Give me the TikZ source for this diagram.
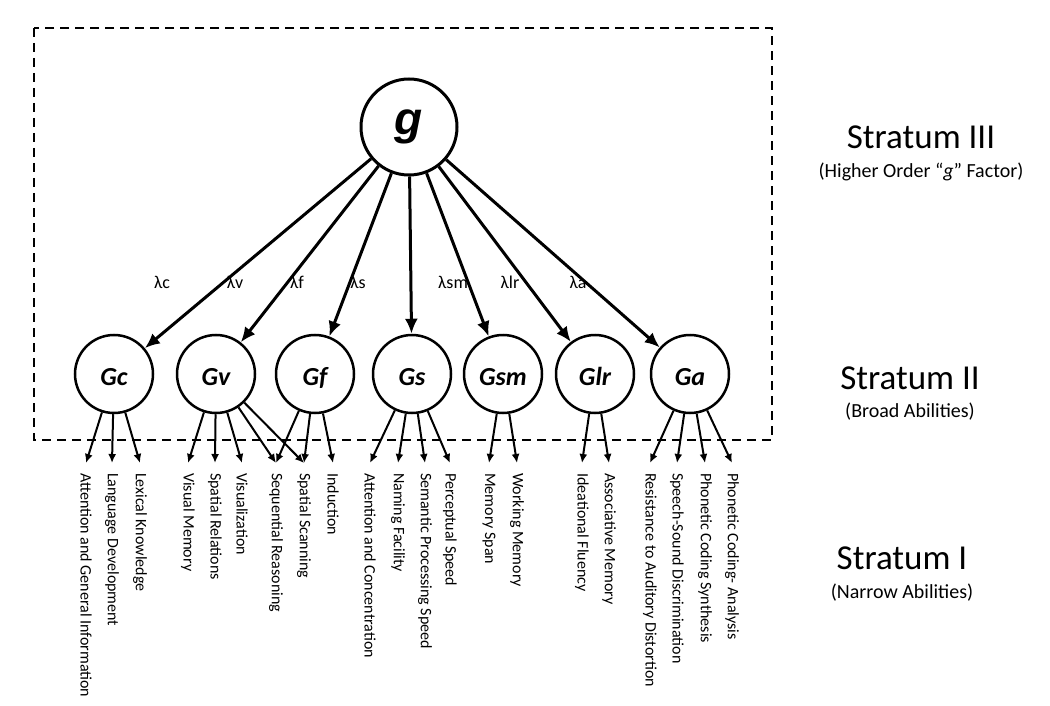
\documentclass[tikz,border=0pt]{standalone}
\usepackage{fontspec}
\setmainfont{Carlito}
\newfontfamily\gfont{Liberation Sans}
\usetikzlibrary{arrows.meta}

\begin{document}
\begin{tikzpicture}[x = 1pt, y = -1pt,
	factor/.style = {circle, draw, line width = 2.5pt, minimum size = 78pt, inner sep = 0pt, text height = 22pt, text depth = 0pt, font = \fontsize{26}{26}\selectfont\bfseries\itshape},
	load/.style = {line width = 3pt, -{Latex[length = 15pt, width = 13pt]}},
	narrow/.style = {line width = 2pt, -{Latex[length = 9pt, width = 8pt]}},
	ability/.style = {rotate = -90, anchor = west, inner xsep = 10pt, inner ysep = 0pt, font = \fontsize{16}{16}\selectfont},
	lam/.style = {font = \fontsize{18}{18}\selectfont},
	big/.style = {font = \fontsize{35}{36}\selectfont},
	small/.style = {font = \fontsize{20}{22}\selectfont}]%三层模型
	\useasboundingbox (0,0) rectangle (1050,706);
	\draw[line width = 2.5pt, dash pattern = on 9pt off 6pt] (34,28) rectangle (772,440);
	\node[circle, draw, line width = 3pt, minimum size = 96pt, inner sep = 0pt, font = \fontsize{46}{46}\gfont\bfseries\itshape] (g) at (409,127) {g};
	\node[factor] (Gc) at (114,374) {Gc};
	\node[factor] (Gv) at (216,374) {Gv};
	\node[factor] (Gf) at (315,374) {Gf};
	\node[factor] (Gs) at (412,374) {Gs};
	\node[factor] (Gsm) at (503,374) {Gsm};
	\node[factor] (Glr) at (595,374) {Glr};
	\node[factor] (Ga) at (690,374) {Ga};
	\draw[load] (g) -- (Gc);
	\draw[load] (g) -- (Gv);
	\draw[load] (g) -- (Gf);
	\draw[load] (g) -- (Gs);
	\draw[load] (g) -- (Gsm);
	\draw[load] (g) -- (Glr);
	\draw[load] (g) -- (Ga);
	\node[lam] (lc) at (162,282) {λc};
	\node[lam] (lv) at (235,282) {λv};
	\node[lam] (lf) at (297,282) {λf};
	\node[lam] (ls) at (358,282) {λs};
	\node[lam] (lsm) at (453,282) {λsm};
	\node[lam] (llr) at (510,282) {λlr};
	\node[lam] (la) at (578,282) {λa};
	% narrow abilities
	\node[ability] (a1) at (86,463) {Attention and General Information};
	\node[ability] (a2) at (112,463) {Language Development};
	\node[ability] (a3) at (140,463) {Lexical Knowledge};
	\node[ability] (a4) at (188,463) {Visual Memory};
	\node[ability] (a5) at (215,463) {Spatial Relations};
	\node[ability] (a6) at (242,463) {Visualization};
	\node[ability] (a7) at (276,463) {Sequential Reasoning};
	\node[ability] (a8) at (304,463) {Spatial Scanning};
	\node[ability] (a9) at (333,463) {Induction};
	\node[ability] (a10) at (370,463) {Attention and Concentration};
	\node[ability] (a11) at (398,463) {Naming Facility};
	\node[ability] (a12) at (425,463) {Semantic Processing Speed};
	\node[ability] (a13) at (450,463) {Perceptual Speed};
	\node[ability] (a14) at (489,463) {Memory Span};
	\node[ability] (a15) at (517,463) {Working Memory};
	\node[ability] (a16) at (582,463) {Ideational Fluency};
	\node[ability] (a17) at (609,463) {Associative Memory};
	\node[ability] (a18) at (650,463) {Resistance to Auditory Distortion};
	\node[ability] (a19) at (677,463) {Speech-Sound Discrimination};
	\node[ability] (a20) at (705,463) {Phonetic Coding Synthesis};
	\node[ability] (a21) at (732,463) {Phonetic Coding- Analysis};
	\draw[narrow] (Gc) -- (a1.west);
	\draw[narrow] (Gc) -- (a2.west);
	\draw[narrow] (Gc) -- (a3.west);
	\draw[narrow] (Gv) -- (a4.west);
	\draw[narrow] (Gv) -- (a5.west);
	\draw[narrow] (Gv) -- (a6.west);
	\draw[narrow] (Gv) -- (a7.west);
	\draw[narrow] (Gv) -- (a8.west);
	\draw[narrow] (Gf) -- (a7.west);
	\draw[narrow] (Gf) -- (a8.west);
	\draw[narrow] (Gf) -- (a9.west);
	\draw[narrow] (Gs) -- (a10.west);
	\draw[narrow] (Gs) -- (a11.west);
	\draw[narrow] (Gs) -- (a12.west);
	\draw[narrow] (Gs) -- (a13.west);
	\draw[narrow] (Gsm) -- (a14.west);
	\draw[narrow] (Gsm) -- (a15.west);
	\draw[narrow] (Glr) -- (a16.west);
	\draw[narrow] (Glr) -- (a17.west);
	\draw[narrow] (Ga) -- (a18.west);
	\draw[narrow] (Ga) -- (a19.west);
	\draw[narrow] (Ga) -- (a20.west);
	\draw[narrow] (Ga) -- (a21.west);
	% strata
	\node[big] (s3) at (921,137) {Stratum III};
	\node[small] (s3b) at (921,172) {(Higher Order “\textit{g}” Factor)};
	\node[big] (s2) at (910,378) {Stratum II};
	\node[small] (s2b) at (910,412) {(Broad Abilities)};
	\node[big] (s1) at (902,558) {Stratum I};
	\node[small] (s1b) at (902,593) {(Narrow Abilities)};
\end{tikzpicture}
\end{document}
